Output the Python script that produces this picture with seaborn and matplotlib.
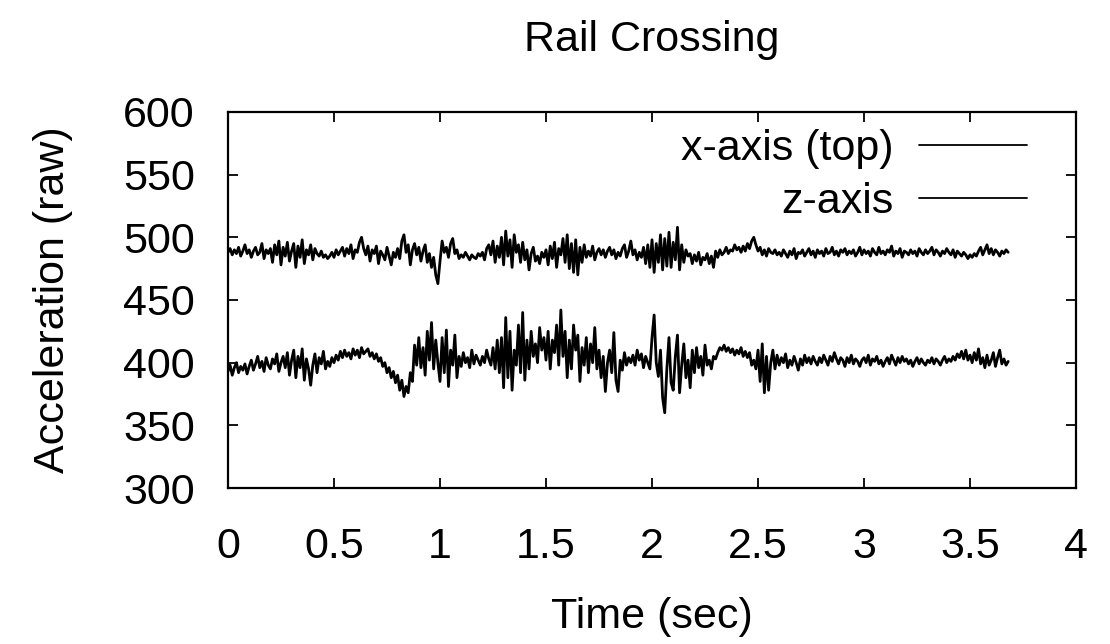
import numpy as np
import pandas as pd
import matplotlib
matplotlib.use("Agg")
import matplotlib.pyplot as plt
import seaborn as sns

# %% Data (raw accelerometer samples, 100 Hz)
x_axis = [
    488, 491, 486, 490, 487, 492, 485, 489, 494, 487,
    490, 484, 489, 492, 486, 488, 495, 483, 490, 487,
    491, 480, 494, 486, 497, 478, 492, 485, 496, 481,
    489, 495, 476, 493, 484, 498, 479, 490, 486, 494,
    482, 491, 487, 485, 489, 484, 486, 483, 485, 488,
    484, 490, 486, 489, 492, 485, 491, 487, 494, 483,
    490, 488, 496, 500, 491, 486, 493, 481, 490, 487,
    493, 479, 489, 486, 482, 492, 485, 478, 488, 484,
    491, 483, 497, 502, 488, 494, 478, 490, 495, 486,
    492, 481, 489, 494, 480, 487, 476, 484, 470, 463,
    481, 497, 488, 492, 484, 495, 499, 487, 490, 483,
    486, 484, 488, 485, 482, 486, 484, 483, 487, 485,
    488, 482, 491, 494, 486, 497, 480, 493, 484, 500,
    478, 505, 485, 498, 476, 502, 488, 494, 480, 496,
    482, 490, 474, 487, 492, 481, 485, 479, 488, 484,
    490, 478, 493, 483, 496, 476, 491, 486, 499, 480,
    502, 475, 495, 472, 498, 470, 492, 480, 494, 484,
    489, 485, 493, 482, 488, 491, 486, 490, 484, 489,
    492, 486, 490, 483, 488, 485, 491, 494, 484, 489,
    497, 486, 490, 482, 488, 484, 492, 479, 494, 476,
    498, 472, 495, 480, 502, 474, 499, 477, 504, 476,
    496, 482, 508, 474, 494, 480, 490, 485, 487, 479,
    486, 481, 488, 478, 484, 482, 487, 479, 485, 476,
    489, 484, 490, 486, 488, 492, 487, 490, 489, 494,
    490, 492, 488, 493, 489, 495, 491, 497, 500, 494,
    489, 492, 486, 490, 485, 491, 488, 487, 490, 486,
    488, 485, 490, 487, 484, 489, 486, 491, 483, 488,
    487, 490, 485, 488, 491, 486, 489, 484, 490, 487,
    489, 485, 491, 487, 488, 492, 486, 489, 485, 490,
    488, 491, 486, 489, 487, 490, 485, 488, 492, 486,
    490, 487, 489, 485, 491, 488, 486, 492, 487, 489,
    486, 490, 488, 493, 485, 489, 487, 491, 484, 489,
    488, 486, 490, 487, 489, 485, 491, 488, 486, 490,
    487, 489, 492, 486, 490, 488, 485, 489, 487, 491,
    488, 486, 490, 484, 489, 487, 485, 488, 486, 483,
    486, 484, 487, 485, 489, 492, 486, 490, 494, 487,
    491, 486, 490, 488, 485, 489, 487, 490, 488,
]

z_axis = [
    393, 398, 390, 396, 400, 392, 397, 394, 399, 391,
    397, 402, 394, 399, 405, 396, 401, 393, 404, 398,
    395, 403, 399, 407, 393, 400, 405, 396, 408, 390,
    402, 410, 388, 405, 396, 411, 386, 403, 395, 382,
    398, 407, 392, 404, 399, 409, 395, 401, 397, 404,
    400, 406, 402, 409, 404, 410, 405, 408, 403, 411,
    406, 410, 404, 412, 407, 409, 411, 405, 408, 403,
    407, 401, 404, 397, 400, 392, 396, 388, 393, 384,
    390, 378, 386, 373, 381, 376, 392, 385, 414, 398,
    420, 396, 412, 390, 425, 402, 432, 395, 418, 400,
    385, 420, 392, 426, 381, 410, 398, 422, 388, 405,
    397, 408, 400, 404, 396, 410, 399, 406, 402, 398,
    405, 400, 410, 403, 398, 412, 395, 418, 392, 420,
    380, 436, 388, 425, 378, 410, 398, 430, 392, 440,
    386, 418, 395, 425, 405, 415, 400, 428, 410, 420,
    402, 425, 395, 418, 408, 430, 398, 442, 405, 425,
    388, 418, 395, 430, 410, 422, 385, 412, 398, 420,
    392, 415, 400, 428, 395, 410, 388, 405, 377, 400,
    410, 392, 424, 386, 377, 402, 394, 408, 398, 404,
    400, 406, 398, 410, 402, 407, 396, 405, 400, 395,
    420, 438, 400, 389, 410, 372, 360, 395, 420, 384,
    378, 405, 422, 376, 398, 415, 388, 402, 380, 410,
    392, 412, 396, 405, 390, 414, 398, 402, 395, 405,
    403, 408, 412, 410, 414, 409, 412, 408, 411, 406,
    410, 407, 412, 405, 409, 404, 408, 398, 402, 395,
    410, 385, 415, 376, 405, 378, 400, 410, 395, 406,
    398, 404, 400, 407, 396, 402, 398, 405, 400, 394,
    403, 398, 406, 400, 404, 399, 405, 401, 398, 404,
    400, 406, 402, 398, 405, 401, 408, 403, 399, 404,
    402, 397, 404, 400, 406, 399, 403, 401, 397, 402,
    404, 400, 406, 398, 403, 401, 405, 399, 402, 397,
    401, 404, 399, 406, 402, 398, 404, 400, 405, 401,
    403, 399, 402, 397, 401, 404, 399, 403, 400, 398,
    402, 400, 404, 399, 403, 401, 398, 402, 405, 400,
    403, 401, 405, 402, 407, 404, 409, 403, 410, 402,
    406, 400, 408, 402, 411, 399, 404, 396, 406, 398,
    402, 408, 397, 404, 410, 399, 403, 398, 401,
]

sample_rate = 100  # Hz
time = np.arange(len(x_axis)) / sample_rate

df = pd.DataFrame({'Time': time, 'x-axis (top)': x_axis, 'z-axis': z_axis})

x_ticks = [0, 0.5, 1, 1.5, 2, 2.5, 3, 3.5, 4]
x_tick_labels = ['0', '0.5', '1', '1.5', '2', '2.5', '3', '3.5', '4']
y_ticks = [300, 350, 400, 450, 500, 550, 600]

# %% Plot
sns.set_theme(style='ticks')
plt.rcParams['font.family'] = ['Liberation Sans', 'DejaVu Sans']
plt.rcParams['text.color'] = 'black'
plt.rcParams['axes.labelcolor'] = 'black'
fs = 31

fig = plt.figure(figsize=(11.1, 6.44), dpi=100)
ax = fig.add_axes([0.2054, 0.2422, 0.764, 0.584])

for col in ['x-axis (top)', 'z-axis']:
    sns.lineplot(data=df, x='Time', y=col, ax=ax, color='black',
                 linewidth=2.0, label=col, estimator=None)

ax.set_xlim(0, 4)
ax.set_ylim(300, 600)
ax.set_xticks(x_ticks)
ax.set_xticklabels(x_tick_labels)
ax.set_yticks(y_ticks)
ax.tick_params(direction='in', length=7, width=1.3, top=True, right=True,
               labelsize=fs, colors='black')
ax.tick_params(axis='x', pad=28)
ax.tick_params(axis='y', pad=24)
for s in ax.spines.values():
    s.set_linewidth(1.6)
    s.set_color('black')

ax.set_title('Rail Crossing', fontsize=fs, pad=44, color='black')
ax.set_xlabel('Time (sec)', fontsize=fs, labelpad=22, color='black')
ax.set_ylabel('Acceleration (raw)', fontsize=fs, labelpad=36, color='black')

leg = ax.legend(loc='upper right', bbox_to_anchor=(0.9626, 1.0014), frameon=False,
                fontsize=fs, markerfirst=False, handlelength=2.5,
                handletextpad=0.6, labelspacing=0.31, borderaxespad=0)
for t in leg.get_texts():
    t.set_color('black')
for h in leg.get_lines():
    h.set_linewidth(1.3)

plt.savefig('out.png', dpi=100)
